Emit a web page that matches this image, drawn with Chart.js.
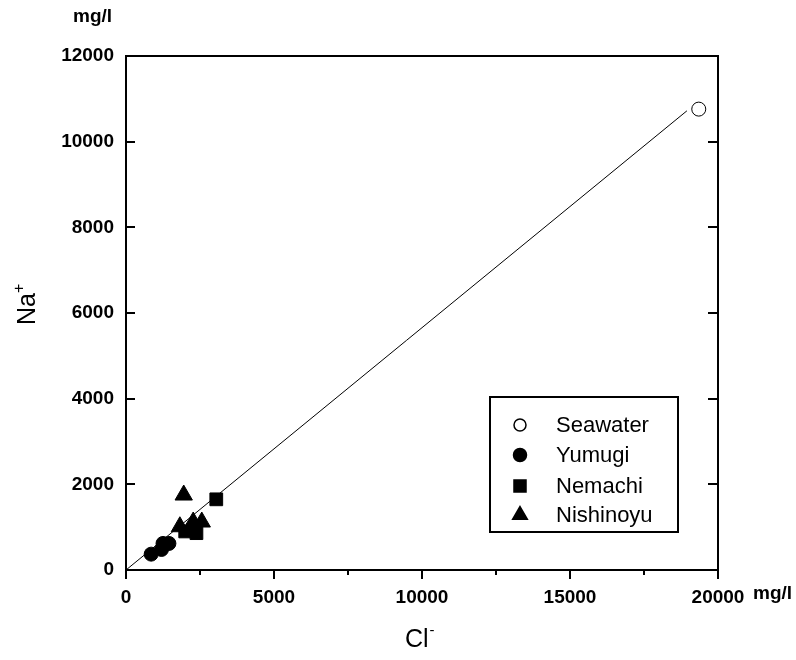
<!DOCTYPE html>
<html>
<head>
<meta charset="utf-8">
<script src="https://cdn.jsdelivr.net/npm/chart.js@4/dist/chart.umd.min.js"></script>
<style>
  html, body { margin: 0; padding: 0; background: #fff; }
  #wrap { width: 796px; height: 660px; }
</style>
</head>
<body>
<div id="wrap"><canvas id="myChart" width="796" height="660"></canvas></div>
<script>
// values (mg/l)
var seawaterCl = [19350];
var seawaterNa = [10760];
var yumugiCl = [850, 1200, 1250, 1450];
var yumugiNa = [370, 480, 620, 620];
var nemachiCl = [3050, 2000, 2380];
var nemachiNa = [1650, 900, 860];
var nishinoyuCl = [1950, 1820, 2270, 2560];
var nishinoyuNa = [1750, 1010, 1120, 1120];
var lineCl = [0, 18950];
var lineNa = [0, 10720];

var xTicks = [0, 5000, 10000, 15000, 20000];
var yTicks = [0, 2000, 4000, 6000, 8000, 10000, 12000];

function pts(xs, ys) {
    var out = [];
    for (var i = 0; i < xs.length; i++) out.push({x: xs[i], y: ys[i]});
    return out;
}

var fontFam = "'Liberation Sans', Arial, sans-serif";

// frame, ticks, axis titles and legend
var extras = {
    id: 'extras',
    afterDraw: function (chart) {
        var ctx = chart.ctx;
        var a = chart.chartArea;
        var xs = chart.scales.x, ys = chart.scales.y;
        ctx.save();
        ctx.strokeStyle = '#000';
        ctx.lineWidth = 2;
        ctx.strokeRect(a.left, a.top, a.right - a.left, a.bottom - a.top);

        ctx.beginPath();
        for (var v = 0; v <= 20000; v += 2500) {
            var px = Math.round(xs.getPixelForValue(v));
            var major = v % 5000 == 0;
            ctx.moveTo(px, a.bottom);
            ctx.lineTo(px, a.bottom + (major ? 9 : 5));
            if (major) { ctx.moveTo(px, a.top); ctx.lineTo(px, a.top + 1); }
        }
        for (var w = 0; w <= 12000; w += 1000) {
            var py = Math.round(ys.getPixelForValue(w));
            var maj = w % 2000 == 0;
            ctx.moveTo(a.left, py);
            ctx.lineTo(a.left + (maj ? 9 : 1), py);
            ctx.moveTo(a.right, py);
            ctx.lineTo(a.right - (maj ? 10 : 1), py);
        }
        ctx.stroke();

        // units
        ctx.fillStyle = '#000';
        ctx.font = 'bold 19px ' + fontFam;
        ctx.textBaseline = 'alphabetic';
        ctx.textAlign = 'left';
        ctx.fillText('mg/l', 73, 22);
        ctx.fillText('mg/l', 753, 599);

        // axis titles
        ctx.font = '25px ' + fontFam;
        var clW = ctx.measureText('Cl').width;
        var cx = 405;
        ctx.fillText('Cl', cx, 647);
        ctx.font = '15px ' + fontFam;
        ctx.fillText('-', cx + clW + 1, 635);

        ctx.save();
        ctx.translate(35, 325);
        ctx.rotate(-Math.PI / 2);
        ctx.font = '25px ' + fontFam;
        var naW = ctx.measureText('Na').width;
        ctx.fillText('Na', 0, 0);
        ctx.font = '16px ' + fontFam;
        ctx.fillText('+', naW, -11);
        ctx.restore();

        // legend box
        ctx.lineWidth = 2;
        ctx.strokeRect(490, 397, 188, 135);
        var rowY = [425, 455, 486, 515];
        var k = 0;
        chart.data.datasets.forEach(function (ds) {
            if (!ds.inLegend) return;
            var y = rowY[k++];
            ctx.fillStyle = ds.backgroundColor;
            ctx.strokeStyle = '#000';
            ctx.lineWidth = 1.5;
            Chart.helpers.drawPoint(ctx, {
                pointStyle: ds.pointStyle,
                radius: ds.legendRadius,
                borderWidth: 1.5
            }, 520, y);
            ctx.fillStyle = '#000';
            ctx.font = '22px ' + fontFam;
            ctx.textBaseline = 'middle';
            ctx.textAlign = 'left';
            ctx.fillText(ds.label, 556, y + 1);
        });
        ctx.restore();
    }
};

var ctx = document.getElementById('myChart');
var myChart = new Chart(ctx, {
    type: 'scatter',
    data: {
        datasets: [
            {
                label: 'fit',
                data: pts(lineCl, lineNa),
                showLine: true,
                borderColor: '#000',
                borderWidth: 1,
                pointRadius: 0,
                inLegend: false
            },
            {
                label: 'Seawater',
                data: pts(seawaterCl, seawaterNa),
                pointStyle: 'circle',
                pointRadius: 7,
                backgroundColor: '#fff',
                borderColor: '#000',
                borderWidth: 1,
                legendRadius: 6,
                inLegend: true
            },
            {
                label: 'Yumugi',
                data: pts(yumugiCl, yumugiNa),
                pointStyle: 'circle',
                pointRadius: 7,
                backgroundColor: '#000',
                borderColor: '#000',
                borderWidth: 1,
                legendRadius: 6.5,
                inLegend: true
            },
            {
                label: 'Nemachi',
                data: pts(nemachiCl, nemachiNa),
                pointStyle: 'rect',
                pointRadius: 9,
                backgroundColor: '#000',
                borderColor: '#000',
                borderWidth: 1,
                legendRadius: 8.5,
                inLegend: true
            },
            {
                label: 'Nishinoyu',
                data: pts(nishinoyuCl, nishinoyuNa),
                pointStyle: 'triangle',
                pointRadius: 10,
                backgroundColor: '#000',
                borderColor: '#000',
                borderWidth: 1,
                legendRadius: 8.5,
                inLegend: true
            }
        ]
    },
    options: {
        responsive: false,
        animation: false,
        layout: { padding: { top: 56, right: 78, left: 0, bottom: 0 } },
        plugins: {
            legend: { display: false },
            tooltip: { enabled: false }
        },
        scales: {
            x: {
                type: 'linear',
                min: 0,
                max: 20000,
                afterBuildTicks: function (s) { s.ticks = xTicks.map(function (v) { return {value: v}; }); },
                afterFit: function (s) { s.height = 90; },
                grid: { display: false, drawTicks: false, tickLength: 0 },
                border: { display: false },
                ticks: {
                    color: '#000',
                    padding: 16,
                    maxRotation: 0,
                    callback: function (v) { return String(v); },
                    font: { family: fontFam, size: 19, weight: 'bold' }
                }
            },
            y: {
                type: 'linear',
                min: 0,
                max: 12000,
                afterBuildTicks: function (s) { s.ticks = yTicks.map(function (v) { return {value: v}; }); },
                afterFit: function (s) { s.width = 126; },
                grid: { display: false, drawTicks: false, tickLength: 0 },
                border: { display: false },
                ticks: {
                    color: '#000',
                    padding: 12,
                    callback: function (v) { return String(v); },
                    font: { family: fontFam, size: 19, weight: 'bold' }
                }
            }
        }
    },
    plugins: [extras]
});
</script>
</body>
</html>
